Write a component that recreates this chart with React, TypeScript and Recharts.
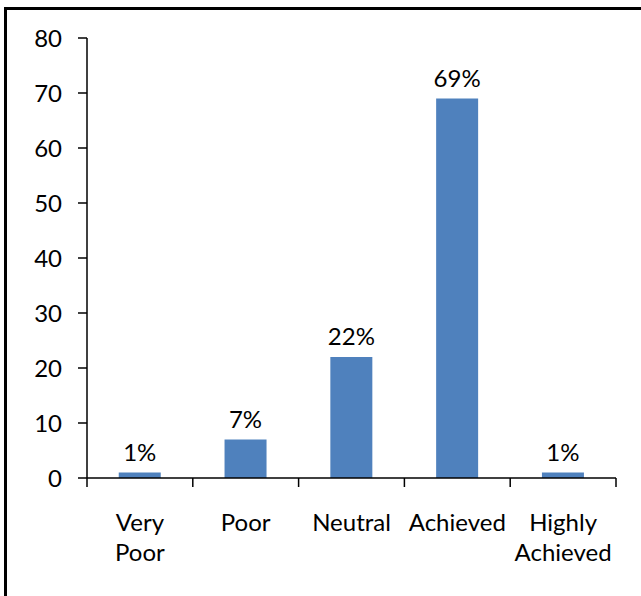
import { Bar, BarChart, LabelList, XAxis, YAxis } from "recharts";

const categories = ["Very Poor", "Poor", "Neutral", "Achieved", "Highly Achieved"];
const percentages = [1, 7, 22, 69, 1];
const yTicks = [0, 10, 20, 30, 40, 50, 60, 70, 80];

const data = categories.map((name, i) => ({ name, value: percentages[i] }));

const FONT = "Lato, 'Open Sans', sans-serif";
const FONT_SIZE = 24;
const WIDTH = 641;
const HEIGHT = 596;
const MARGIN = { top: 38, right: 25, bottom: 0, left: 0 };
const Y_AXIS_WIDTH = 87;

function CategoryTick(props: any) {
  const { x, y, payload, index, visibleTicksCount } = props;
  const fallback = (WIDTH - Y_AXIS_WIDTH - MARGIN.right) / categories.length / 2;
  const half = payload?.offset || fallback;
  const lines = String(payload.value).split(" ");
  return (
    <g>
      <line x1={x - half} x2={x - half} y1={y} y2={y + 9} stroke="#000" strokeWidth={1.5} />
      {index === visibleTicksCount - 1 ? (
        <line x1={x + half} x2={x + half} y1={y} y2={y + 9} stroke="#000" strokeWidth={1.5} />
      ) : null}
      <text x={x} y={y + 53} textAnchor="middle" fontSize={FONT_SIZE} fontFamily={FONT} fill="#000">
        {lines.map((line, i) => (
          <tspan key={i} x={x} dy={i === 0 ? 0 : 30}>
            {line}
          </tspan>
        ))}
      </text>
    </g>
  );
}

export default function App() {
  return (
    <div
      style={{
        position: "absolute",
        left: 0,
        top: 0,
        width: WIDTH,
        height: HEIGHT,
        overflow: "hidden",
        background: "#fff",
      }}
    >
      <div
        style={{
          position: "absolute",
          left: 4,
          top: 7,
          width: 700,
          height: 700,
          border: "3px solid #000",
          boxSizing: "border-box",
        }}
      />
      <div style={{ position: "absolute", left: 0, top: 0 }}>
        <BarChart width={WIDTH} height={HEIGHT} data={data} margin={MARGIN} barCategoryGap="30%">
          <XAxis
            dataKey="name"
            height={HEIGHT - 478}
            interval={0}
            axisLine={{ stroke: "#000", strokeWidth: 1.5 }}
            tickLine={false}
            tickSize={0}
            tickMargin={0}
            tick={<CategoryTick />}
          />
          <YAxis
            width={Y_AXIS_WIDTH}
            domain={[0, 80]}
            ticks={yTicks}
            interval={0}
            axisLine={{ stroke: "#000", strokeWidth: 1.5 }}
            tickLine={{ stroke: "#000", strokeWidth: 1.5 }}
            tickSize={9}
            tickMargin={16}
            tick={{ fill: "#000", fontSize: FONT_SIZE, fontFamily: FONT }}
          />
          <Bar dataKey="value" fill="#4F81BD" isAnimationActive={false}>
            <LabelList
              dataKey="value"
              position="top"
              offset={12}
              formatter={(v: any) => `${v}%`}
              fill="#000"
              fontSize={FONT_SIZE}
              fontFamily={FONT}
            />
          </Bar>
        </BarChart>
      </div>
    </div>
  );
}
